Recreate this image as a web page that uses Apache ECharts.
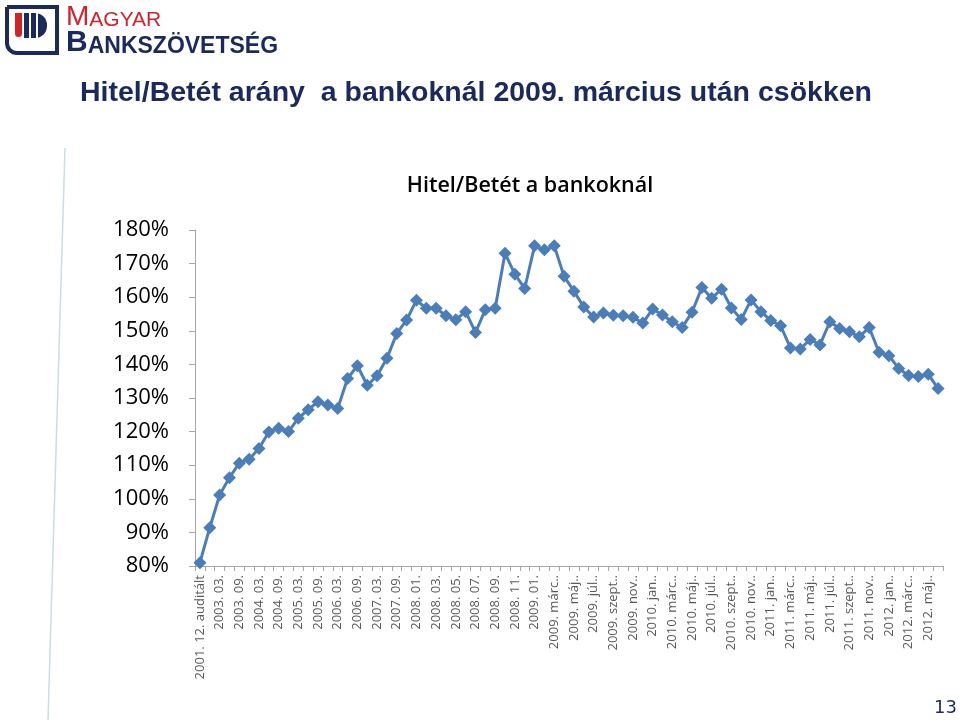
<!DOCTYPE html>
<html><head><meta charset="utf-8">
<script src="https://cdn.jsdelivr.net/npm/echarts@6/dist/echarts.min.js"></script>
<style>html,body{margin:0;padding:0;background:#fff}#c{width:960px;height:724px}</style>
</head><body><div id="c"></div>
<script>
var categories = [
 '2001. 12. auditált','2002. 12.','2003. 03.','2003. 06.','2003. 09.','2003. 12.','2004. 03.','2004. 06.','2004. 09.','2004. 12.',
 '2005. 03.','2005. 06.','2005. 09.','2005. 12.','2006. 03.','2006. 06.','2006. 09.','2006. 12.','2007. 03.','2007. 06.',
 '2007. 09.','2007. 12.','2008. 01.','2008. 02.','2008. 03.','2008. 04.','2008. 05.','2008. 06.','2008. 07.','2008. 08.',
 '2008. 09.','2008. 10.','2008. 11.','2008. 12.','2009. 01.','2009. febr..','2009. márc..','2009. ápr..','2009. máj..','2009. jún..',
 '2009. júl..','2009. aug..','2009. szept..','2009. okt..','2009. nov..','2009. dec..','2010. jan..','2010. febr..','2010. márc..','2010. ápr..',
 '2010. máj..','2010. jún..','2010. júl..','2010. aug..','2010. szept..','2010. okt..','2010. nov..','2010. dec..','2011. jan..','2011. febr..',
 '2011. márc..','2011. ápr..','2011. máj..','2011. jún..','2011. júl..','2011. aug..','2011. szept..','2011. okt..','2011. nov..','2011. dec..',
 '2012. jan..','2012. febr..','2012. márc..','2012. ápr..','2012. máj..','2012. jún..'
];
var hitelBetet = [
 81.0, 91.4, 101.1, 106.3, 110.6, 111.8, 115.0, 119.9, 121.0, 120.0,
 124.0, 126.5, 128.9, 127.9, 126.9, 135.8, 139.6, 133.8, 136.6, 141.8,
 149.2, 153.2, 159.1, 156.7, 156.7, 154.5, 153.3, 155.7, 149.5, 156.3,
 156.7, 173.1, 166.8, 162.6, 175.3, 174.1, 175.3, 166.2, 161.8, 157.1,
 154.1, 155.3, 154.6, 154.5, 154.0, 152.3, 156.5, 154.7, 152.7, 151.0,
 155.5, 162.9, 159.7, 162.4, 156.8, 153.4, 159.2, 155.7, 153.1, 151.5,
 144.9, 144.6, 147.4, 145.8, 152.7, 150.7, 149.7, 148.2, 151.0, 143.6,
 142.6, 138.8, 136.7, 136.4, 137.1, 132.8
];
var yMin = 80, yMax = 180, yStep = 10;
var pageTitle = 'Hitel/Betét arány  a bankoknál 2009. március után csökken';
var chartTitle = 'Hitel/Betét a bankoknál';
var pageNumber = '13';

var navy = '#1B2A5E', red = '#D2232A';
var chart = echarts.init(document.getElementById('c'), null, {renderer: 'canvas'});
chart.setOption({
  animation: false,
  backgroundColor: '#fff',
  title: {
    text: chartTitle, left: 525, textAlign: 'center', top: 170,
    textStyle: {fontFamily: 'Open Sans', fontSize: 21.5, fontWeight: 600, color: '#000'}
  },
  grid: {left: 195, right: 17, top: 230, bottom: 158},
  xAxis: {
    type: 'category', data: categories, boundaryGap: true,
    axisLine: {lineStyle: {color: '#A6A6A6', width: 1}},
    axisTick: {show: true, interval: 0, length: 5, lineStyle: {color: '#A6A6A6'}},
    axisLabel: {interval: 1, rotate: 90, fontFamily: 'Open Sans', fontSize: 13, color: '#595959', margin: 9}
  },
  yAxis: {
    type: 'value', min: yMin, max: yMax, interval: yStep,
    axisLine: {show: true, lineStyle: {color: '#A6A6A6', width: 1}},
    axisTick: {show: true, length: 6, lineStyle: {color: '#A6A6A6'}},
    splitLine: {show: false},
    axisLabel: {formatter: '{value}%', fontFamily: 'Open Sans', fontSize: 22, color: '#000', margin: 26}
  },
  series: [{
    type: 'line', data: hitelBetet,
    symbol: 'diamond', symbolSize: 13, showAllSymbol: true,
    lineStyle: {color: '#4A7EBB', width: 3},
    itemStyle: {color: '#4A7EBB'}
  }],
  graphic: [
    {type: 'line', shape: {x1: 65, y1: 148, x2: 48, y2: 720}, style: {stroke: '#C9DDE3', lineWidth: 1.5}},
    // logo
    {type: 'rect', shape: {x: 7, y: 7, width: 50, height: 46, r: [0, 0, 0, 10]}, style: {fill: 'none', stroke: navy, lineWidth: 4}},
    {type: 'rect', shape: {x: 15, y: 13, width: 7, height: 24, r: [0, 0, 4, 4]}, style: {fill: red}},
    {type: 'rect', shape: {x: 24, y: 13, width: 23, height: 25, r: [0, 12, 12, 0]}, style: {fill: navy}},
    {type: 'rect', shape: {x: 29, y: 13, width: 2, height: 25}, style: {fill: '#fff'}},
    {type: 'rect', shape: {x: 36, y: 13, width: 2, height: 25}, style: {fill: '#fff'}},
    {type: 'text', left: 66, top: 3, style: {
      text: '{a|M}{b|AGYAR}', rich: {
        a: {fontFamily: 'Liberation Sans', fontSize: 28, fill: red, verticalAlign: 'bottom'},
        b: {fontFamily: 'Liberation Sans', fontSize: 21, fill: red, verticalAlign: 'bottom'}
      }}},
    {type: 'text', left: 66, top: 28, style: {
      text: '{a|B}{b|ANKSZÖVETSÉG}', rich: {
        a: {fontFamily: 'Liberation Sans', fontWeight: 'bold', fontSize: 30, fill: navy, verticalAlign: 'bottom'},
        b: {fontFamily: 'Liberation Sans', fontWeight: 'bold', fontSize: 23, fill: navy, verticalAlign: 'bottom'}
      }}},
    {type: 'text', left: 80, top: 79, style: {text: pageTitle, fontFamily: 'Liberation Sans', fontWeight: 'bold', fontSize: 28.5, fill: navy}},
    {type: 'text', right: 3, top: 699, style: {text: pageNumber, fontFamily: 'DejaVu Sans', fontSize: 18, fill: navy}}
  ]
});
</script></body></html>
